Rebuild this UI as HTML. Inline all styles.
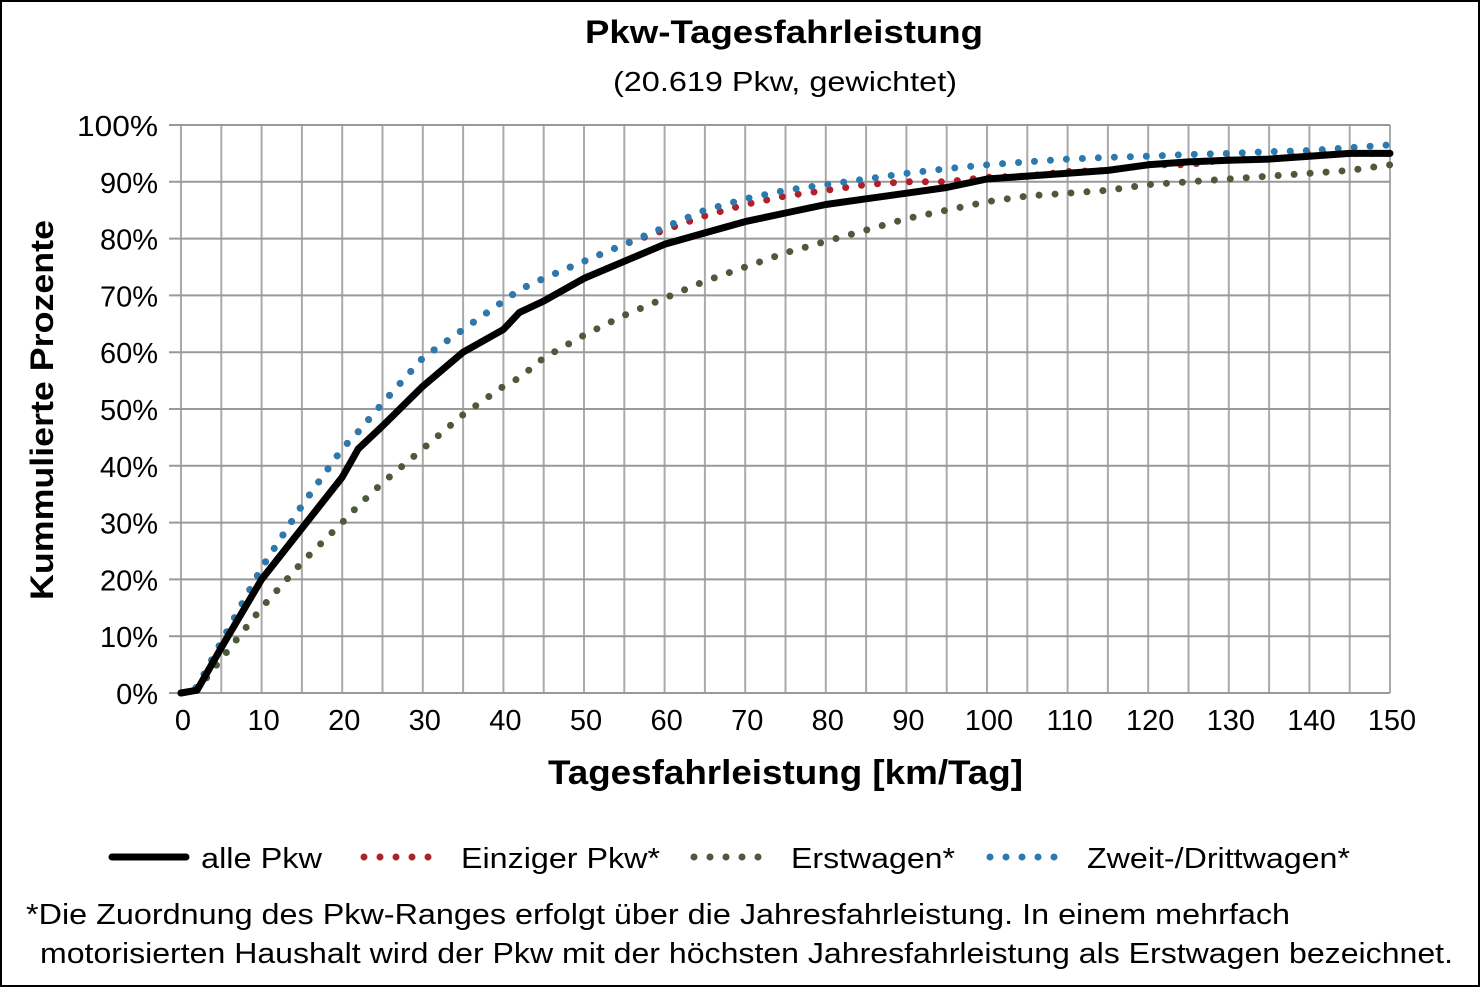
<!DOCTYPE html>
<html><head><meta charset="utf-8"><style>
html,body{margin:0;padding:0;background:#fff}
svg{display:block;font-family:"Liberation Sans",Arial,sans-serif}
</style></head><body>
<svg id="c" width="1484" height="988" viewBox="0 0 1484 988">
<rect x="1" y="1" width="1478" height="985" fill="#fff" stroke="#000" stroke-width="2"/>
<text x="585" y="43" textLength="398" lengthAdjust="spacingAndGlyphs" font-size="32" font-weight="bold">Pkw-Tagesfahrleistung</text>
<text x="613" y="91" textLength="344" lengthAdjust="spacingAndGlyphs" font-size="28">(20.619 Pkw, gewichtet)</text>
<g id="grid"></g><g id="ticks"></g><g id="series"></g>
<text x="548" y="784" textLength="475" lengthAdjust="spacingAndGlyphs" font-size="34" font-weight="bold">Tagesfahrleistung [km/Tag]</text>
<text transform="translate(53,600) rotate(-90)" textLength="380" lengthAdjust="spacingAndGlyphs" font-size="32" font-weight="bold">Kummulierte Prozente</text>
<g font-size="29">
<g><line x1="112" y1="857" x2="186" y2="857" stroke="#000" stroke-width="7" stroke-linecap="round"/><text x="201" y="868" textLength="121" lengthAdjust="spacingAndGlyphs">alle Pkw</text></g>
<g><line x1="364" y1="857" x2="436" y2="857" stroke="#b0202a" stroke-width="7" stroke-linecap="round" stroke-dasharray="0 16"/><text x="461" y="868" textLength="199" lengthAdjust="spacingAndGlyphs">Einziger Pkw*</text></g>
<g><line x1="694" y1="857" x2="766" y2="857" stroke="#4d5a3a" stroke-width="7" stroke-linecap="round" stroke-dasharray="0 16"/><text x="791" y="868" textLength="164" lengthAdjust="spacingAndGlyphs">Erstwagen*</text></g>
<g><line x1="990" y1="857" x2="1062" y2="857" stroke="#2a7ab0" stroke-width="7" stroke-linecap="round" stroke-dasharray="0 16"/><text x="1087" y="868" textLength="263" lengthAdjust="spacingAndGlyphs">Zweit-/Drittwagen*</text></g>
</g>
<text x="26" y="924" textLength="1264" lengthAdjust="spacingAndGlyphs" font-size="29">*Die Zuordnung des Pkw-Ranges erfolgt über die Jahresfahrleistung. In einem mehrfach</text>
<text x="40" y="963" textLength="1413" lengthAdjust="spacingAndGlyphs" font-size="29">motorisierten Haushalt wird der Pkw mit der höchsten Jahresfahrleistung als Erstwagen bezeichnet.</text>
</svg>
<script>
const xKm = [0,2,5,10,15,20,22,25,30,35,40,42,45,50,55,60,65,70,75,80,85,90,95,100,105,110,115,120,125,130,135,140,145,150];
const allePkw = [0,0.5,8,20,29,38,43,47,54,60,64,67,69,73,76,79,81,83,84.5,86,87,88,89,90.5,91,91.5,92,93,93.5,93.8,94,94.5,95,95];
const einzigerPkw = [0,1,9,22,33,43,46,51,59,64,69,71,73,76,79,81.5,84,86,87.5,88.5,89.5,90,90,90.8,91,91.8,92,93,93,94,94,95,95,95];
const zweitwagen = [0,1,9,22,33,43,46,51,59,64,69,71,73,76,79,82,85,87,88.5,89.5,90.5,91.5,92.3,93,93.5,94,94.3,94.5,94.8,95,95.3,95.5,96,96.5];
const erstwagen = [0,0.5,6,15,23,30,33,37,43,49,54,55.5,59,63,66.5,69.5,72.5,75,77.5,79.5,81.5,83.5,85,86.5,87.5,88,88.5,89.5,90,90.5,91,91.5,92,93];
const xTicks = [0,10,20,30,40,50,60,70,80,90,100,110,120,130,140,150];
const yTicks = [0,10,20,30,40,50,60,70,80,90,100];
const NS='http://www.w3.org/2000/svg';
const X0=181,X1=1390,Y0=693,Y1=125;
const sx=v=>X0+(X1-X0)*v/150, sy=v=>Y0-(Y0-Y1)*v/100;
function mk(t,a,p){const e=document.createElementNS(NS,t);for(const k in a)e.setAttribute(k,a[k]);p.appendChild(e);return e;}
const grid=document.getElementById('grid'),ticks=document.getElementById('ticks'),ser=document.getElementById('series');
for(let k=0;k<=150;k+=5){const l=mk('line',{x1:sx(k),x2:sx(k),y1:Y1,y2:Y0,stroke:'#aaa','stroke-width':2},grid);

}
yTicks.forEach(v=>{const l=mk('line',{x1:X0-12,x2:X1,y1:sy(v),y2:sy(v),stroke:'#999','stroke-width':2},grid);


const t=mk('text',{x:158,y:sy(v)+11,'text-anchor':'end','font-size':29},ticks);t.textContent=v+'%';
if(v===100){t.setAttribute('textLength',81);t.setAttribute('lengthAdjust','spacingAndGlyphs');}

});
xTicks.forEach(v=>{const t=mk('text',{x:sx(v)+2,y:730,'text-anchor':'middle','font-size':29},ticks);t.textContent=v;

});
function path(arr){return arr.map((v,i)=>(i?'L':'M')+sx(xKm[i]).toFixed(1)+' '+sy(v).toFixed(1)).join(' ');}
const specs=[[erstwagen,'#4d5a3a',true,'series-erstwagen'],[einzigerPkw,'#b0202a',true,'series-einziger-pkw'],[zweitwagen,'#2a7ab0',true,'series-zweit-drittwagen'],[allePkw,'#000',false,'series-alle-pkw']];
specs.forEach(s=>{const p=mk('path',{d:path(s[0]),fill:'none',stroke:s[1],'stroke-width':7,'stroke-linecap':'round','stroke-linejoin':'round'},ser);
if(s[2])p.setAttribute('stroke-dasharray','0 16');

});
</script>
</body></html>
